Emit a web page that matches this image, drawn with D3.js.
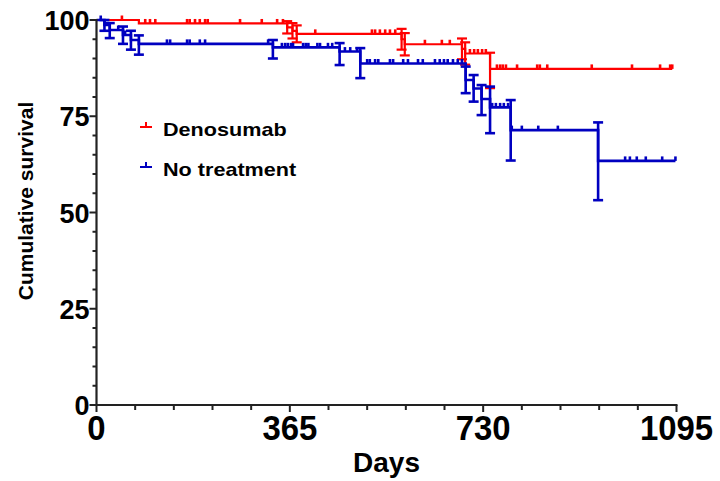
<!DOCTYPE html>
<html>
<head>
<meta charset="utf-8">
<script src="https://cdn.jsdelivr.net/npm/d3@7"></script>
<style>
  body { margin: 0; background: #fff; }
  text { font-family: "Liberation Sans", Arial, sans-serif; font-weight: bold; fill: #000; }
</style>
</head>
<body>
<script>
// axis ticks
const dayTicks = [0, 365, 730, 1095];
const survTicks = [0, 25, 50, 75, 100];

// Denosumab: event days, survival after event, error bar limits, censored days
const denoEventDay = [80, 360, 370, 378, 576, 582, 690, 696, 743];
const denoSurv = [99.1, 98.1, 97.2, 96.4, 95.0, 93.7, 92.5, 91.3, 87.3];
const denoLo = [null, 96.5, 95.2, 94.2, 92.3, 90.8, 89.8, 88.4, 82.3];
const denoHi = [null, 99.7, 99.2, 98.6, 97.7, 96.6, 95.2, 94.2, 91.5];
const denoCensor = [48, 92, 101, 111, 171, 176, 186, 195, 205, 210, 271, 312, 341, 352,
    413, 520, 526, 535, 545, 554, 564, 620, 652, 667, 705, 713, 720, 728, 735,
    756, 762, 767, 773, 794, 832, 837, 851, 935, 1011, 1064, 1083];
const denoEnd = 1087;

// No treatment
const noTxEventDay = [15, 25, 50, 65, 80, 333, 459, 498, 697, 712, 727, 743, 782, 947];
const noTxSurv = [98.7, 97.4, 96.1, 94.8, 93.8, 92.9, 91.8, 88.7, 84.4, 82.2, 79.5, 77.3, 71.4, 63.4];
const noTxLo = [97.2, 95.3, 93.8, 92.3, 91.0, 90.0, 88.3, 84.9, 81.0, 78.8, 75.3, 70.6, 63.5, 53.2];
const noTxHi = [100.0, 99.2, 98.3, 97.2, 96.0, 94.8, 94.0, 92.7, 87.9, 85.7, 83.1, 82.7, 79.2, 73.4];
const noTxCensor = [8, 41, 54, 133, 139, 171, 176, 195, 205, 324, 350, 356, 361, 367, 371,
    390, 395, 400, 417, 422, 437, 445, 469, 479, 492, 511, 516, 526, 532, 554, 560,
    579, 588, 607, 616, 639, 648, 656, 663, 673, 682, 690, 747, 754, 762, 769, 777,
    784, 803, 834, 871, 998, 1007, 1020, 1037, 1068];
const noTxEnd = 1093;

const width = 720, height = 481;
const x = d3.scaleLinear().domain([0, 1095]).range([96.5, 676.5]);
const y = d3.scaleLinear().domain([0, 100]).range([405, 20]);

const svg = d3.select('body').append('svg')
    .attr('width', width)
    .attr('height', height);

const series = [
    { name: 'Denosumab', color: '#ff0000', lw: 2.2, days: denoEventDay, surv: denoSurv, lo: denoLo, hi: denoHi, censor: denoCensor, end: denoEnd },
    { name: 'No treatment', color: '#0000c0', lw: 2.6, days: noTxEventDay, surv: noTxSurv, lo: noTxLo, hi: noTxHi, censor: noTxCensor, end: noTxEnd }
];

// survival level at a given day (step function)
function levelAt(s, day) {
    const i = d3.bisectRight(s.days, day);
    return i === 0 ? 100 : s.surv[i - 1];
}

series.forEach(s => {
    const g = svg.append('g');
    const pts = [[0, 100]].concat(s.days.map((d, i) => [d, s.surv[i]]));
    pts.push([s.end, s.surv[s.surv.length - 1]]);

    g.append('path')
        .datum(pts)
        .attr('d', d3.line().x(d => x(d[0])).y(d => y(d[1])).curve(d3.curveStepAfter))
        .attr('fill', 'none')
        .attr('stroke', s.color)
        .attr('stroke-width', s.lw);

    // error bars at each event
    s.days.forEach((d, i) => {
        if (s.lo[i] === null) return;
        const cx = x(d);
        g.append('line')
            .attr('x1', cx).attr('x2', cx)
            .attr('y1', y(s.hi[i])).attr('y2', y(s.lo[i]))
            .attr('stroke', s.color).attr('stroke-width', s.lw);
        [s.lo[i], s.hi[i]].forEach(v => {
            g.append('line')
                .attr('x1', cx - 5).attr('x2', cx + 5)
                .attr('y1', y(v)).attr('y2', y(v))
                .attr('stroke', s.color).attr('stroke-width', s.lw);
        });
    });

    // censor ticks
    g.selectAll('line.censor')
        .data(s.censor.concat([s.end]))
        .enter().append('line')
        .attr('class', 'censor')
        .attr('x1', d => x(d)).attr('x2', d => x(d))
        .attr('y1', d => y(levelAt(s, d)))
        .attr('y2', d => y(levelAt(s, d)) - 4.5)
        .attr('stroke', s.color)
        .attr('stroke-width', 2.6);
});

// axes
const axisColor = '#222';
const yAxis = svg.append('g');
yAxis.append('line')
    .attr('x1', x(0)).attr('x2', x(0))
    .attr('y1', y(100) - 1).attr('y2', y(0))
    .attr('stroke', axisColor).attr('stroke-width', 2.2);
yAxis.selectAll('line.tick')
    .data(d3.range(0, 101, 5))
    .enter().append('line')
    .attr('x1', d => d % 25 === 0 ? x(0) - 7 : x(0) - 4)
    .attr('x2', x(0))
    .attr('y1', d => y(d)).attr('y2', d => y(d))
    .attr('stroke', axisColor).attr('stroke-width', 2);
yAxis.selectAll('text')
    .data(survTicks)
    .enter().append('text')
    .attr('x', 89.5)
    .attr('y', d => y(d) + 10)
    .attr('text-anchor', 'end')
    .style('font-size', '27px')
    .text(d => d);

const xAxis = svg.append('g');
xAxis.append('line')
    .attr('x1', x(0) - 1).attr('x2', x(1095) + 1)
    .attr('y1', y(0)).attr('y2', y(0))
    .attr('stroke', axisColor).attr('stroke-width', 2.2);
xAxis.selectAll('line.tick')
    .data(d3.range(0, 1096, 73))
    .enter().append('line')
    .attr('x1', d => x(d)).attr('x2', d => x(d))
    .attr('y1', y(0))
    .attr('y2', d => d % 365 === 0 ? y(0) + 7 : y(0) + 5)
    .attr('stroke', axisColor).attr('stroke-width', 2);
xAxis.selectAll('text')
    .data(dayTicks)
    .enter().append('text')
    .attr('transform', d => `translate(${x(d)},440) scale(0.94,1)`)
    .attr('text-anchor', 'middle')
    .style('font-size', '35px')
    .text(d => d);

// axis titles
svg.append('text')
    .attr('x', 386.5).attr('y', 472)
    .attr('text-anchor', 'middle')
    .style('font-size', '28px')
    .text('Days');
svg.append('text')
    .attr('transform', 'translate(33,201) rotate(-90)')
    .attr('text-anchor', 'middle')
    .style('font-size', '21px')
    .text('Cumulative survival');

// legend
const legendY = [127, 167];
series.forEach((s, i) => {
    const g = svg.append('g');
    g.append('line')
        .attr('x1', 140).attr('x2', 152)
        .attr('y1', legendY[i]).attr('y2', legendY[i])
        .attr('stroke', s.color).attr('stroke-width', 2);
    g.append('line')
        .attr('x1', 146).attr('x2', 146)
        .attr('y1', legendY[i]).attr('y2', legendY[i] - 5)
        .attr('stroke', s.color).attr('stroke-width', 2);
    g.append('text')
        .attr('transform', `translate(163,${legendY[i] + 9}) scale(1.2,1)`)
        .style('font-size', '18px')
        .text(s.name);
});
</script>
</body>
</html>
